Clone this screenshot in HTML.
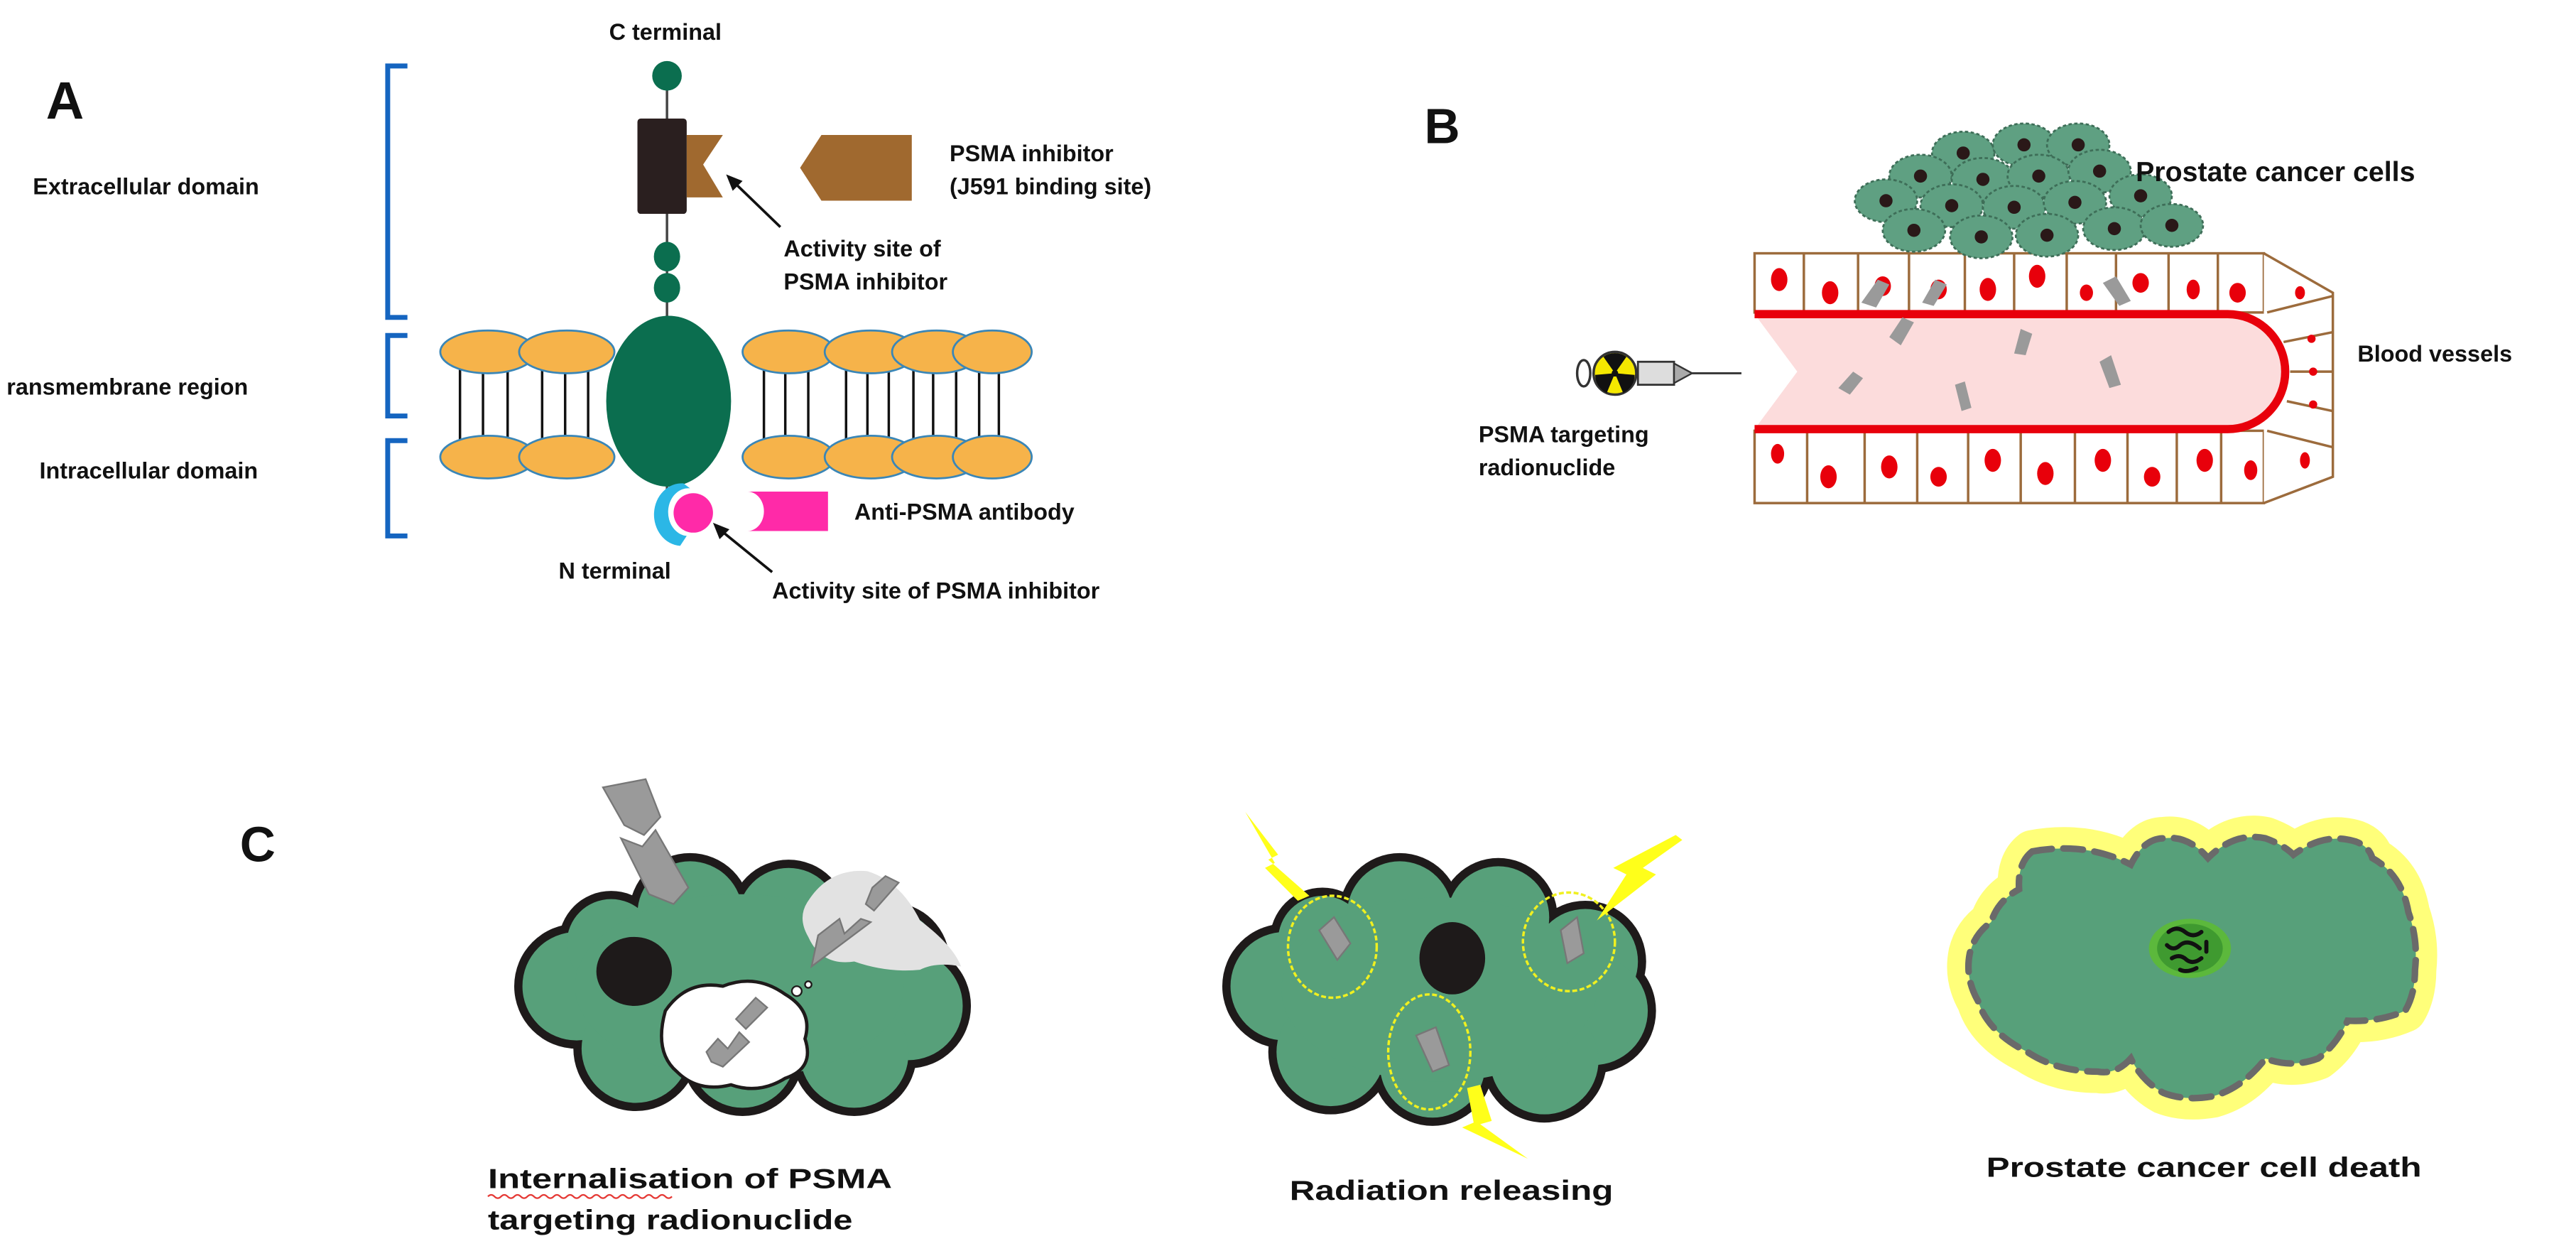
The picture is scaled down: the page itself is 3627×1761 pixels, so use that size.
<!DOCTYPE html>
<html><head><meta charset="utf-8"><style>
html,body{margin:0;padding:0;background:#fff}
svg{display:block}
text{font-family:"Liberation Sans",sans-serif;fill:#111}
</style></head><body>
<svg width="3627" height="1761" viewBox="0 0 1568 761" xmlns="http://www.w3.org/2000/svg">
<rect width="1568" height="761" fill="#fff"/>
<!-- ===== Panel A ===== -->
<text x="28" y="72" font-size="32" font-weight="bold">A</text>
<text x="405" y="24" font-size="14" text-anchor="middle" font-weight="bold" fill="#222">C terminal</text>
<line x1="406" y1="45" x2="406" y2="300" stroke="#444" stroke-width="1.5"/>
<ellipse cx="406" cy="46" rx="9" ry="9" fill="#0b6e4f"/>
<rect x="388" y="72" width="30" height="58" fill="#2a1f1f" rx="2"/>
<polygon points="418,82 440,82 428,100 440,120 418,120" fill="#a0692f"/>
<polygon points="500,82 555,82 555,122 500,122 487,102" fill="#a0692f"/>
<text x="578" y="98" font-size="14" font-weight="bold" fill="#222">PSMA inhibitor</text>
<text x="578" y="118" font-size="14" font-weight="bold" fill="#222">(J591 binding site)</text>
<line x1="475" y1="138" x2="446" y2="110" stroke="#111" stroke-width="1.6"/>
<polygon points="442,106 452,110 446,116" fill="#111"/>
<text x="477" y="156" font-size="14" font-weight="bold" fill="#222">Activity site of</text>
<text x="477" y="176" font-size="14" font-weight="bold" fill="#222">PSMA inhibitor</text>
<ellipse cx="406" cy="156" rx="8" ry="9" fill="#0b6e4f"/>
<ellipse cx="406" cy="175" rx="8" ry="9" fill="#0b6e4f"/>
<g stroke="#111" stroke-width="1.5">
<line x1="280" y1="213" x2="280" y2="278"/><line x1="294" y1="213" x2="294" y2="278"/><line x1="309" y1="213" x2="309" y2="278"/>
<line x1="330" y1="213" x2="330" y2="278"/><line x1="344" y1="213" x2="344" y2="278"/><line x1="358" y1="213" x2="358" y2="278"/>
<line x1="465" y1="213" x2="465" y2="278"/><line x1="478" y1="213" x2="478" y2="278"/><line x1="492" y1="213" x2="492" y2="278"/>
<line x1="515" y1="213" x2="515" y2="278"/><line x1="528" y1="213" x2="528" y2="278"/><line x1="541" y1="213" x2="541" y2="278"/>
<line x1="556" y1="213" x2="556" y2="278"/><line x1="568" y1="213" x2="568" y2="278"/><line x1="582" y1="213" x2="582" y2="278"/>
<line x1="596" y1="213" x2="596" y2="278"/><line x1="608" y1="213" x2="608" y2="278"/>
</g>
<g fill="#f6b34a" stroke="#3a86b7" stroke-width="1.2">
<ellipse cx="297" cy="214" rx="29" ry="13"/><ellipse cx="345" cy="214" rx="29" ry="13"/>
<ellipse cx="297" cy="278" rx="29" ry="13"/><ellipse cx="345" cy="278" rx="29" ry="13"/>
<ellipse cx="480" cy="214" rx="28" ry="13"/><ellipse cx="530" cy="214" rx="28" ry="13"/><ellipse cx="570" cy="214" rx="27" ry="13"/><ellipse cx="604" cy="214" rx="24" ry="13"/>
<ellipse cx="480" cy="278" rx="28" ry="13"/><ellipse cx="530" cy="278" rx="28" ry="13"/><ellipse cx="570" cy="278" rx="27" ry="13"/><ellipse cx="604" cy="278" rx="24" ry="13"/>
</g>
<ellipse cx="407" cy="244" rx="38" ry="52" fill="#0b6e4f"/>
<g fill="none" stroke="#1565c0" stroke-width="3">
<path d="M248,40 H236 V193 H248"/>
<path d="M248,204 H236 V253 H248"/>
<path d="M248,268 H236 V326 H248"/>
</g>
<text x="20" y="118" font-size="14" font-weight="bold" fill="#222">Extracellular domain</text>
<text x="4" y="240" font-size="14" font-weight="bold" fill="#222">ransmembrane region</text>
<text x="24" y="291" font-size="14" font-weight="bold" fill="#222">Intracellular domain</text>
<path d="M416,294 A16,18 0 0 0 414,332 L418,326 A11,13 0 0 1 420,297 Z" fill="#2bb7e6"/>
<circle cx="422" cy="312" r="12" fill="#ff2aa8"/>
<path d="M455,299 H504 V323 H455 A10,12 0 0 0 455,299 Z" fill="#ff2aa8"/>
<text x="520" y="316" font-size="14" font-weight="bold" fill="#222">Anti-PSMA antibody</text>
<text x="340" y="352" font-size="14" font-weight="bold" fill="#222">N terminal</text>
<line x1="470" y1="348" x2="438" y2="322" stroke="#111" stroke-width="1.6"/>
<polygon points="434,318 444,322 438,328" fill="#111"/>
<text x="470" y="364" font-size="14" font-weight="bold" fill="#222">Activity site of PSMA inhibitor</text>

<!-- ===== Panel B ===== -->
<text x="867" y="87" font-size="30" font-weight="bold">B</text>
<g fill="#fff" stroke="#9c6b3c" stroke-width="1.5">
<rect x="1068" y="154" width="310" height="36"/>
<rect x="1068" y="262" width="310" height="44"/>
<path d="M1378,154 L1420,178 V290 L1378,306"/>
</g>
<g stroke="#9c6b3c" stroke-width="1.5">
<line x1="1098" y1="154" x2="1098" y2="190"/><line x1="1131" y1="154" x2="1131" y2="190"/><line x1="1162" y1="154" x2="1162" y2="190"/><line x1="1196" y1="154" x2="1196" y2="190"/><line x1="1226" y1="154" x2="1226" y2="190"/><line x1="1258" y1="154" x2="1258" y2="190"/><line x1="1288" y1="154" x2="1288" y2="190"/><line x1="1320" y1="154" x2="1320" y2="190"/><line x1="1350" y1="154" x2="1350" y2="190"/>
<line x1="1100" y1="262" x2="1100" y2="306"/><line x1="1135" y1="262" x2="1135" y2="306"/><line x1="1167" y1="262" x2="1167" y2="306"/><line x1="1198" y1="262" x2="1198" y2="306"/><line x1="1230" y1="262" x2="1230" y2="306"/><line x1="1263" y1="262" x2="1263" y2="306"/><line x1="1295" y1="262" x2="1295" y2="306"/><line x1="1325" y1="262" x2="1325" y2="306"/><line x1="1352" y1="262" x2="1352" y2="306"/>
<line x1="1380" y1="190" x2="1420" y2="180"/><line x1="1390" y1="208" x2="1420" y2="202"/><line x1="1394" y1="226" x2="1420" y2="226"/><line x1="1392" y1="244" x2="1420" y2="250"/><line x1="1380" y1="262" x2="1420" y2="272"/>
</g>
<g fill="#e8000b">
<ellipse cx="1083" cy="170" rx="5" ry="7"/><ellipse cx="1114" cy="178" rx="5" ry="7"/><ellipse cx="1146" cy="174" rx="5" ry="6"/><ellipse cx="1180" cy="176" rx="5" ry="6"/><ellipse cx="1210" cy="176" rx="5" ry="7"/><ellipse cx="1240" cy="168" rx="5" ry="7"/><ellipse cx="1270" cy="178" rx="4" ry="5"/><ellipse cx="1303" cy="172" rx="5" ry="6"/><ellipse cx="1335" cy="176" rx="4" ry="6"/><ellipse cx="1362" cy="178" rx="5" ry="6"/><ellipse cx="1400" cy="178" rx="3" ry="4"/>
<ellipse cx="1082" cy="276" rx="4" ry="6"/><ellipse cx="1113" cy="290" rx="5" ry="7"/><ellipse cx="1150" cy="284" rx="5" ry="7"/><ellipse cx="1180" cy="290" rx="5" ry="6"/><ellipse cx="1213" cy="280" rx="5" ry="7"/><ellipse cx="1245" cy="288" rx="5" ry="7"/><ellipse cx="1280" cy="280" rx="5" ry="7"/><ellipse cx="1310" cy="290" rx="5" ry="6"/><ellipse cx="1342" cy="280" rx="5" ry="7"/><ellipse cx="1370" cy="286" rx="4" ry="6"/><ellipse cx="1403" cy="280" rx="3" ry="5"/>
<circle cx="1407" cy="206" r="2.5"/><circle cx="1408" cy="226" r="2.5"/><circle cx="1408" cy="246" r="2.5"/>
</g>
<path d="M1068,191 H1356 A35,35 0 0 1 1356,261 H1068 L1094,226 Z" fill="#fcdcdc"/>
<path d="M1068,191 H1356 A35,35 0 0 1 1356,261 H1068" fill="none" stroke="#e8000b" stroke-width="5"/>
<g fill="#9a9a9a">
<polygon points="1133,184 1143,170 1150,173 1142,187"/><polygon points="1170,184 1178,170 1185,173 1177,186"/><polygon points="1280,172 1288,168 1297,183 1290,186"/>
<polygon points="1150,205 1158,193 1165,196 1157,210"/><polygon points="1226,215 1230,200 1237,203 1233,216"/><polygon points="1119,236 1128,226 1134,230 1126,240"/><polygon points="1190,234 1196,232 1200,248 1194,250"/><polygon points="1278,220 1285,216 1291,234 1284,236"/>
</g>
<g stroke="#3e6e58" stroke-width="1.2" fill="#5fa082" stroke-dasharray="2 1.5">
<ellipse cx="1195" cy="93" rx="19" ry="13"/><ellipse cx="1232" cy="88" rx="19" ry="13"/><ellipse cx="1265" cy="88" rx="19" ry="13"/>
<ellipse cx="1169" cy="107" rx="19" ry="13"/><ellipse cx="1207" cy="109" rx="19" ry="13"/><ellipse cx="1241" cy="107" rx="19" ry="13"/><ellipse cx="1278" cy="104" rx="19" ry="13"/>
<ellipse cx="1148" cy="122" rx="19" ry="13"/><ellipse cx="1188" cy="125" rx="19" ry="13"/><ellipse cx="1226" cy="126" rx="19" ry="13"/><ellipse cx="1263" cy="123" rx="19" ry="13"/><ellipse cx="1303" cy="119" rx="19" ry="13"/>
<ellipse cx="1165" cy="140" rx="19" ry="13"/><ellipse cx="1206" cy="144" rx="19" ry="13"/><ellipse cx="1246" cy="143" rx="19" ry="13"/><ellipse cx="1287" cy="139" rx="19" ry="13"/><ellipse cx="1322" cy="137" rx="19" ry="13"/>
</g>
<g fill="#2a1818">
<circle cx="1195" cy="93" r="4"/><circle cx="1232" cy="88" r="4"/><circle cx="1265" cy="88" r="4"/>
<circle cx="1169" cy="107" r="4"/><circle cx="1207" cy="109" r="4"/><circle cx="1241" cy="107" r="4"/><circle cx="1278" cy="104" r="4"/>
<circle cx="1148" cy="122" r="4"/><circle cx="1188" cy="125" r="4"/><circle cx="1226" cy="126" r="4"/><circle cx="1263" cy="123" r="4"/><circle cx="1303" cy="119" r="4"/>
<circle cx="1165" cy="140" r="4"/><circle cx="1206" cy="144" r="4"/><circle cx="1246" cy="143" r="4"/><circle cx="1287" cy="139" r="4"/><circle cx="1322" cy="137" r="4"/>
</g>
<text x="1300" y="110" font-size="17" font-weight="bold" fill="#111">Prostate cancer cells</text>
<text x="1435" y="220" font-size="14" font-weight="bold" fill="#222">Blood vessels</text>
<ellipse cx="964" cy="227" rx="4" ry="8" fill="#fff" stroke="#333" stroke-width="1.5"/>
<circle cx="983" cy="227" r="13" fill="#f5e800" stroke="#333" stroke-width="1.5"/>
<g fill="#111"><circle cx="983" cy="227" r="2"/>
<path d="M983,227 L976,217 A12,12 0 0 1 990,217 Z"/><path d="M983,227 L995,228 A12,12 0 0 1 988,239 Z"/><path d="M983,227 L978,239 A12,12 0 0 1 971,228 Z"/></g>
<rect x="997" y="220" width="22" height="14" fill="#ddd" stroke="#333" stroke-width="1.2"/>
<polygon points="1019,221 1030,227 1019,233" fill="#aaa" stroke="#333"/>
<line x1="1030" y1="227" x2="1060" y2="227" stroke="#333" stroke-width="1.2"/>
<text x="900" y="269" font-size="14" font-weight="bold" fill="#222">PSMA targeting</text>
<text x="900" y="289" font-size="14" font-weight="bold" fill="#222">radionuclide</text>

<!-- ===== Panel C ===== -->
<text x="146" y="524" font-size="30" font-weight="bold">C</text>
<!-- cell 1 -->
<g fill="#1e1a1a">
<circle cx="351" cy="600" r="38"/><circle cx="372" cy="574" r="32"/><circle cx="420" cy="556" r="37"/><circle cx="480" cy="559" r="36"/><circle cx="542" cy="585" r="36"/><circle cx="553" cy="612" r="38"/><circle cx="520" cy="641" r="38"/><circle cx="452" cy="642" r="37"/><circle cx="387" cy="638" r="38"/><ellipse cx="450" cy="600" rx="104" ry="60"/>
</g>
<g fill="#57a07a">
<circle cx="351" cy="600" r="33"/><circle cx="372" cy="574" r="27"/><circle cx="420" cy="556" r="32"/><circle cx="480" cy="559" r="31"/><circle cx="542" cy="585" r="31"/><circle cx="553" cy="612" r="33"/><circle cx="520" cy="641" r="33"/><circle cx="452" cy="642" r="32"/><circle cx="387" cy="638" r="33"/><ellipse cx="450" cy="600" rx="100" ry="56"/>
</g>
<ellipse cx="386" cy="591" rx="23" ry="21" fill="#1e1a1a"/>
<path d="M492,548 Q505,528 528,530 Q548,536 560,560 Q580,575 585,588 Q570,585 560,590 Q540,592 520,585 Q500,588 492,570 Q485,558 492,548 Z" fill="#e2e2e2"/>
<path d="M405,615 Q418,596 440,600 Q460,592 478,605 Q495,615 490,632 Q496,650 478,656 Q462,666 445,660 Q425,665 412,652 Q398,640 405,615 Z" fill="#fff" stroke="#1e1a1a" stroke-width="2"/>
<circle cx="485" cy="603" r="3" fill="#fff" stroke="#1e1a1a" stroke-width="1"/>
<circle cx="492" cy="599" r="2" fill="#fff" stroke="#1e1a1a" stroke-width="1"/>
<g fill="#9a9a9a" stroke="#777" stroke-width="1">
<polygon points="367,479 393,474 402,497 392,508 380,502"/>
<polygon points="378,510 391,515 399,505 419,540 410,550 395,544"/>
<polygon points="531,540 539,533 547,537 532,554 527,550"/>
<polygon points="498,569 511,559 514,568 524,559 530,561 494,588"/>
<polygon points="448,620 460,607 467,613 454,626"/>
<polygon points="430,640 437,632 443,638 450,628 456,634 440,649 433,646"/>
</g>
<text x="297" y="723" font-size="17" font-weight="bold" fill="#111" textLength="246" lengthAdjust="spacingAndGlyphs">Internalisation of PSMA</text>
<path d="M297,728 q2,-2 4,0 t4,0 t4,0 t4,0 t4,0 t4,0 t4,0 t4,0 t4,0 t4,0 t4,0 t4,0 t4,0 t4,0 t4,0 t4,0 t4,0 t4,0 t4,0 t4,0 t4,0 t4,0 t4,0 t4,0 t4,0 t4,0 t4,0 t4,0" fill="none" stroke="#e53935" stroke-width="1"/>
<text x="297" y="748" font-size="17" font-weight="bold" fill="#111" textLength="222" lengthAdjust="spacingAndGlyphs">targeting radionuclide</text>
<!-- cell 2 -->
<g fill="#1e1a1a">
<circle cx="782" cy="600" r="38"/><circle cx="805" cy="572" r="32"/><circle cx="852" cy="556" r="37"/><circle cx="912" cy="558" r="36"/><circle cx="965" cy="585" r="37"/><circle cx="970" cy="615" r="38"/><circle cx="940" cy="645" r="38"/><circle cx="872" cy="648" r="37"/><circle cx="810" cy="640" r="38"/><ellipse cx="876" cy="602" rx="100" ry="60"/>
</g>
<g fill="#57a07a">
<circle cx="782" cy="600" r="33"/><circle cx="805" cy="572" r="27"/><circle cx="852" cy="556" r="32"/><circle cx="912" cy="558" r="31"/><circle cx="965" cy="585" r="32"/><circle cx="970" cy="615" r="33"/><circle cx="940" cy="645" r="33"/><circle cx="872" cy="648" r="32"/><circle cx="810" cy="640" r="33"/><ellipse cx="876" cy="602" rx="96" ry="56"/>
</g>
<ellipse cx="884" cy="583" rx="20" ry="22" fill="#1e1a1a"/>
<g fill="none" stroke="#f0f020" stroke-width="1.5" stroke-dasharray="3 1.5">
<ellipse cx="811" cy="576" rx="27" ry="31"/><ellipse cx="955" cy="573" rx="28" ry="30"/><ellipse cx="870" cy="640" rx="25" ry="35"/>
</g>
<g fill="#9a9a9a" stroke="#777">
<polygon points="803,566 812,558 822,574 814,584"/><polygon points="950,566 960,558 964,580 954,586"/><polygon points="862,630 874,625 882,648 872,652"/>
</g>
<g fill="#ffff1a">
<polygon points="758,494 778,520 772,523 797,545 790,548 770,528 776,525"/>
<polygon points="1020,508 1024,511 1000,528 1008,532 972,560 990,532 982,528"/>
<polygon points="893,662 901,660 908,682 901,684 930,705 890,686 897,683"/>
</g>
<text x="785" y="730" font-size="17" font-weight="bold" fill="#111" textLength="197" lengthAdjust="spacingAndGlyphs">Radiation releasing</text>
<!-- cell 3 -->
<path id="c3" d="M1237,518 Q1270,512 1297,526 Q1305,510 1317,510 Q1332,508 1344,522 Q1360,506 1379,510 Q1390,514 1396,520 Q1415,506 1434,512 Q1442,515 1444,522 Q1462,532 1466,555 Q1472,572 1470,590 Q1470,605 1464,615 Q1448,622 1429,621 Q1422,636 1411,644 Q1395,650 1379,644 Q1365,662 1347,667 Q1330,670 1317,665 Q1304,658 1297,644 Q1288,654 1277,652 Q1252,652 1234,640 Q1210,628 1204,609 Q1196,595 1199,580 Q1202,568 1212,561 Q1216,548 1229,541 Q1228,525 1237,518 Z" fill="#ffff7a" stroke="#ffff7a" stroke-width="26" stroke-linejoin="round"/>
<path d="M1237,518 Q1270,512 1297,526 Q1305,510 1317,510 Q1332,508 1344,522 Q1360,506 1379,510 Q1390,514 1396,520 Q1415,506 1434,512 Q1442,515 1444,522 Q1462,532 1466,555 Q1472,572 1470,590 Q1470,605 1464,615 Q1448,622 1429,621 Q1422,636 1411,644 Q1395,650 1379,644 Q1365,662 1347,667 Q1330,670 1317,665 Q1304,658 1297,644 Q1288,654 1277,652 Q1252,652 1234,640 Q1210,628 1204,609 Q1196,595 1199,580 Q1202,568 1212,561 Q1216,548 1229,541 Q1228,525 1237,518 Z" fill="#57a07a" stroke="#6a6a6a" stroke-width="4" stroke-dasharray="12 7" stroke-linecap="round"/>
<ellipse cx="1333" cy="577" rx="25" ry="18" fill="#5cb83c"/>
<ellipse cx="1333" cy="577" rx="20" ry="15" fill="#3f9a30"/>
<g stroke="#111" stroke-width="2.5" fill="none" stroke-linecap="round">
<path d="M1320,567 q5,-4 10,0 q5,4 10,0"/><path d="M1319,575 q4,4 8,0 q5,-4 12,2"/><path d="M1322,583 q5,-3 9,1 q4,3 9,-1"/><path d="M1327,590 q4,2 10,-1"/><path d="M1343,573 v6"/>
</g>
<text x="1209" y="716" font-size="17" font-weight="bold" fill="#111" textLength="265" lengthAdjust="spacingAndGlyphs">Prostate cancer cell death</text>
</svg>
</body></html>
